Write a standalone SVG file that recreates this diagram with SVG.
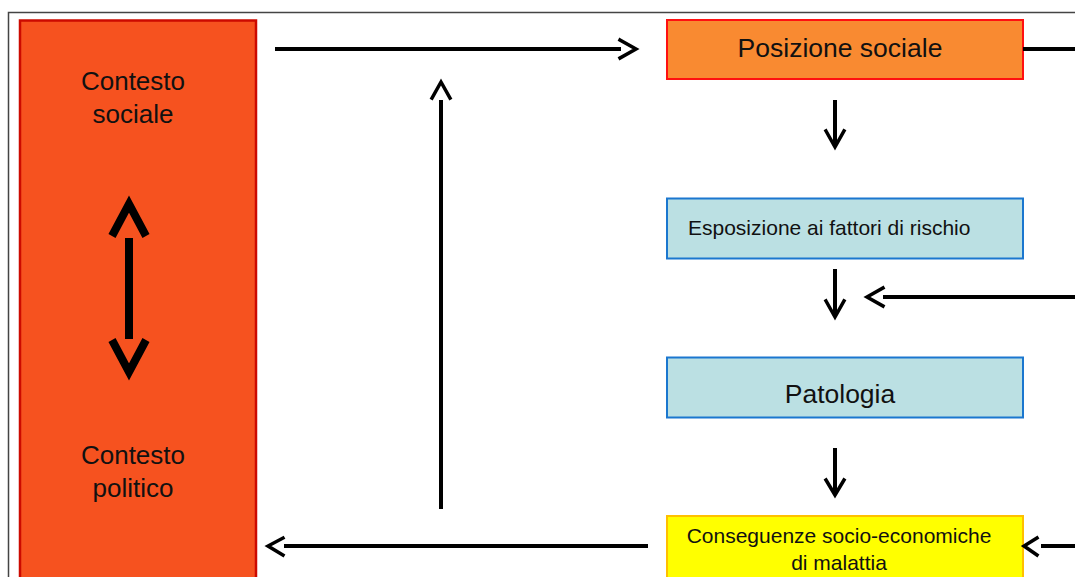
<svg xmlns="http://www.w3.org/2000/svg" width="1075" height="577" viewBox="0 0 1075 577">
<style>
text{font-family:"Liberation Sans",Arial,sans-serif;fill:#111;}
.ln{stroke:#000;stroke-width:4;fill:none;}
.hd{stroke:#000;stroke-width:3.5;fill:none;stroke-linecap:square;}
.big{stroke:#000;stroke-width:8;fill:none;}
</style>
<rect x="0" y="0" width="1075" height="577" fill="#fff"/>
<path d="M8.5,577 V12.5 H1075" fill="none" stroke="#444" stroke-width="1.5"/>
<g id="contesto">
<rect x="20" y="20.5" width="236" height="570" fill="#F6521F" stroke="#CC0A00" stroke-width="2.5"/>
<text x="133" y="90" font-size="26" text-anchor="middle">Contesto</text>
<text x="133" y="123" font-size="26" text-anchor="middle">sociale</text>
<text x="133" y="464" font-size="26" text-anchor="middle">Contesto</text>
<text x="133" y="497" font-size="26" text-anchor="middle">politico</text>
<line class="big" x1="129" y1="238" x2="129" y2="339"/>
<polyline class="big" points="112,236 129,204 146,236" stroke-linecap="butt"/>
<polyline class="big" points="112,340 129,372 146,340" stroke-linecap="butt"/>
</g>
<g id="posizione">
<rect x="667" y="20" width="356" height="59" fill="#F98A31" stroke="#FF1010" stroke-width="2"/>
<text x="840" y="57" font-size="26.5" text-anchor="middle">Posizione sociale</text>
</g>
<g id="esposizione">
<rect x="667" y="198.5" width="356" height="60" fill="#BBE0E3" stroke="#1B77CF" stroke-width="2"/>
<text x="688" y="235" font-size="21">Esposizione ai fattori di rischio</text>
</g>
<g id="patologia">
<rect x="667" y="357.5" width="356" height="60" fill="#BBE0E3" stroke="#1B77CF" stroke-width="2"/>
<text x="840" y="403" font-size="26.5" text-anchor="middle">Patologia</text>
</g>
<g id="conseguenze">
<rect x="667" y="516" width="356" height="80" fill="#FFFF00" stroke="#FFC000" stroke-width="2"/>
<text x="839" y="543" font-size="21" text-anchor="middle">Conseguenze socio-economiche</text>
<text x="839" y="570" font-size="21" text-anchor="middle">di malattia</text>
</g>
<g id="connectors">
<line class="ln" x1="275" y1="49" x2="621" y2="49"/>
<polyline class="hd" points="620,40 636,49 620,58"/>
<line class="ln" x1="1023" y1="49" x2="1075" y2="49"/>
<line class="ln" x1="441" y1="509" x2="441" y2="100"/>
<polyline class="hd" points="432,98 441,82 450,98"/>
<line class="ln" x1="835" y1="100" x2="835" y2="144"/>
<polyline class="hd" points="826,131 835,147 844,131"/>
<line class="ln" x1="835" y1="269" x2="835" y2="314"/>
<polyline class="hd" points="826,301 835,317 844,301"/>
<line class="ln" x1="883" y1="297" x2="1075" y2="297"/>
<polyline class="hd" points="883,288 867,297 883,306"/>
<line class="ln" x1="835" y1="448" x2="835" y2="492"/>
<polyline class="hd" points="826,480 835,495 844,480"/>
<line class="ln" x1="648" y1="546" x2="284" y2="546"/>
<polyline class="hd" points="283,538 268,546 283,555"/>
<line class="ln" x1="1041" y1="546" x2="1075" y2="546"/>
<polyline class="hd" points="1037,538 1024,546 1037,555"/>
</g>
</svg>
